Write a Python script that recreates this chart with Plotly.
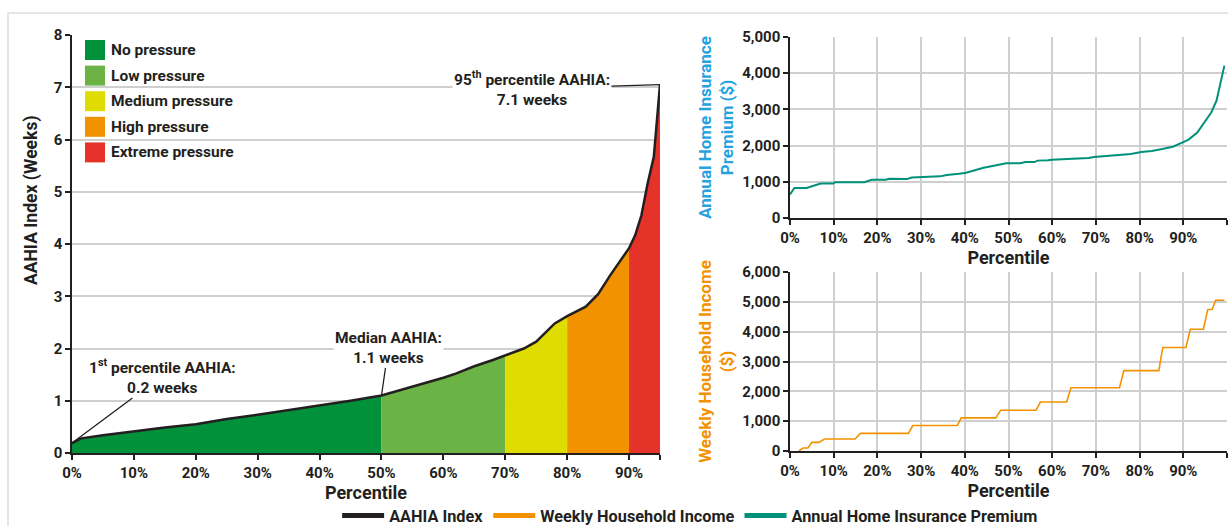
import plotly.graph_objects as go

W, H = 1228, 526

# ---------------- data ----------------
# Left panel: AAHIA index (weeks) by percentile
aahia_pct = [0, 1.5, 5, 10, 15, 20, 25, 30, 35, 40, 45, 50, 53, 56, 60, 62, 65, 68, 70,
             73, 75, 78, 80, 83, 85, 87, 90, 91, 92, 93, 94, 95]
aahia_val = [0.19, 0.28, 0.34, 0.42, 0.49, 0.55, 0.65, 0.73, 0.82, 0.90, 1.00, 1.10, 1.20,
             1.30, 1.44, 1.52, 1.66, 1.78, 1.87, 2.00, 2.13, 2.48, 2.62, 2.80, 3.04, 3.41,
             3.92, 4.17, 4.55, 5.16, 5.67, 7.05]

pressure_names = ["No pressure", "Low pressure", "Medium pressure", "High pressure", "Extreme pressure"]
pressure_colors = ["#00913a", "#6ab344", "#dedc00", "#f39200", "#e5332a"]
pressure_bounds = [0, 50, 70, 80, 90, 95]

# Top right: annual home insurance premium ($)
premium_pct = [0, 1, 3.8, 7, 9.9, 10.3, 17, 18.7, 21.9, 22.7, 26.7, 27.9, 34.3, 35.9, 38.7,
               40.3, 44.3, 49.5, 52.7, 53.9, 55.9, 56.7, 59.1, 59.9, 63.5, 65.9, 68.3, 69.6,
               73.2, 75.6, 78, 80.4, 82.8, 85.2, 87.6, 90, 91.2, 93.2, 95.2, 96.4, 97.6,
               98.6, 99.4]
premium_val = [650, 830, 830, 950, 950, 990, 990, 1055, 1055, 1085, 1075, 1120, 1150, 1185,
               1220, 1250, 1390, 1510, 1510, 1545, 1545, 1585, 1595, 1610, 1630, 1640, 1655,
               1685, 1715, 1750, 1770, 1825, 1850, 1905, 1970, 2095, 2165, 2360, 2685, 2915,
               3240, 3750, 4210]

# Bottom right: weekly household income ($)
income_pct = [2, 3, 4.1, 5, 6.6, 7.9, 14.9, 16.1, 27.1, 28.1, 38.3, 39.2, 47.1, 48.2, 56.3,
              57.3, 63.3, 64.3, 75.4, 76.4, 84.4, 85.3, 90.6, 91.6, 94.6, 95.6, 96.6, 97.4, 99.4]
income_val = [0, 100, 100, 290, 290, 400, 400, 590, 590, 855, 855, 1110, 1110, 1365, 1365,
              1640, 1640, 2120, 2120, 2695, 2695, 3470, 3470, 4080, 4080, 4745, 4745, 5055, 5055]

pct_ticks = [0, 10, 20, 30, 40, 50, 60, 70, 80, 90]
pct_labels = [f"{t}%" for t in pct_ticks]

# ---------------- styling ----------------
DARK = "#231f20"
GRID = "#cfcfcf"
BLUE = "#27a2dc"
ORANGE = "#f39200"
TEAL = "#00917a"
FONT = "Roboto"


def px(x):
    return x / W


def py(y):
    return 1 - y / H


fig = go.Figure()

# pressure bands under the AAHIA curve
for name, color, lo, hi in zip(pressure_names, pressure_colors, pressure_bounds[:-1], pressure_bounds[1:]):
    xs = [p for p in aahia_pct if lo <= p <= hi]
    ys = [v for p, v in zip(aahia_pct, aahia_val) if lo <= p <= hi]
    fig.add_trace(go.Scatter(x=xs, y=ys, mode="lines", fill="tozeroy", fillcolor=color,
                             line=dict(width=0, color=color), showlegend=False,
                             hoverinfo="skip", xaxis="x", yaxis="y"))

fig.add_trace(go.Scatter(x=aahia_pct, y=aahia_val, mode="lines", name="AAHIA Index",
                         line=dict(color=DARK, width=2.5), showlegend=False,
                         xaxis="x", yaxis="y"))

fig.add_trace(go.Scatter(x=premium_pct, y=premium_val, mode="lines",
                         name="Annual Home Insurance Premium",
                         line=dict(color=TEAL, width=2), showlegend=False,
                         xaxis="x2", yaxis="y2"))

fig.add_trace(go.Scatter(x=income_pct, y=income_val, mode="lines",
                         name="Weekly Household Income",
                         line=dict(color=ORANGE, width=1.6), showlegend=False,
                         xaxis="x3", yaxis="y3"))

# legend-only entries (thicker icons)
for name, color in [("AAHIA Index", DARK), ("Weekly Household Income", ORANGE),
                    ("Annual Home Insurance Premium", TEAL)]:
    fig.add_trace(go.Scatter(x=[None], y=[None], mode="lines", name=name,
                             line=dict(color=color, width=5), xaxis="x", yaxis="y"))

tickfont = dict(family=FONT, size=15, color=DARK, weight="bold")
titlefont = dict(family=FONT, size=18, color=DARK, weight="bold")

common_x = dict(showline=True, linecolor=DARK, linewidth=1.5, ticks="outside",
                ticklen=5, tickcolor=DARK, tickwidth=1.5, tickfont=tickfont,
                zeroline=False)
common_y = dict(showline=True, linecolor=DARK, linewidth=1.5, ticks="outside",
                ticklen=5, tickcolor=DARK, tickwidth=1.5, tickfont=tickfont,
                zeroline=False, gridcolor=GRID, gridwidth=1.5)

fig.update_layout(
    width=W, height=H,
    margin=dict(l=0, r=0, t=0, b=0, autoexpand=False),
    paper_bgcolor="white", plot_bgcolor="white",
    font=dict(family=FONT, color=DARK),
    showlegend=True,
    legend=dict(orientation="h", x=0.562, xanchor="center", y=py(516), yanchor="middle",
                font=dict(family=FONT, size=16.3, color=DARK, weight="bold"),
                itemwidth=42, tracegroupgap=0, bgcolor="rgba(0,0,0,0)"),
    xaxis=dict(domain=[px(72), px(660)], range=[0, 95],
               tickvals=pct_ticks, ticktext=pct_labels,
               minor=dict(tickvals=[95], ticks="outside", ticklen=5, tickcolor=DARK,
                          tickwidth=1.5, showgrid=False),
               showgrid=False,
               title=dict(text="Percentile", font=titlefont, standoff=0),
               **common_x),
    yaxis=dict(domain=[py(453), py(35)], range=[0, 8], dtick=1, showgrid=True,
               **common_y),
    xaxis2=dict(domain=[px(790), px(1227)], range=[0, 100],
                tickvals=pct_ticks, ticktext=pct_labels,
                minor=dict(tickvals=[100], ticks="outside", ticklen=5, tickcolor=DARK,
                           tickwidth=1.5, showgrid=True, gridcolor=GRID, gridwidth=1.5),
                showgrid=True, gridcolor=GRID, gridwidth=1.5, anchor="y2",
                title=dict(text="Percentile", font=titlefont, standoff=0),
                **common_x),
    yaxis2=dict(domain=[py(218), py(37)], range=[0, 5000], dtick=1000,
                tickformat=",", anchor="x2", showgrid=True,
                title=dict(text="Annual Home Insurance<br>Premium ($)",
                           font=dict(family=FONT, size=17, color=BLUE, weight="bold"),
                           standoff=4),
                **common_y),
    xaxis3=dict(domain=[px(790), px(1227)], range=[0, 100],
                tickvals=pct_ticks, ticktext=pct_labels,
                minor=dict(tickvals=[100], ticks="outside", ticklen=5, tickcolor=DARK,
                           tickwidth=1.5, showgrid=True, gridcolor=GRID, gridwidth=1.5),
                showgrid=True, gridcolor=GRID, gridwidth=1.5, anchor="y3",
                title=dict(text="Percentile", font=titlefont, standoff=1),
                **common_x),
    yaxis3=dict(domain=[py(451), py(272)], range=[0, 6000], dtick=1000,
                tickformat=",", anchor="x3", showgrid=True,
                title=dict(text="Weekly Household Income<br>($)",
                           font=dict(family=FONT, size=17, color=ORANGE, weight="bold"),
                           standoff=4),
                **common_y),
)

shapes = []
annotations = []

# outer frame
shapes.append(dict(type="rect", xref="paper", yref="paper", x0=px(8), x1=px(1260),
                   y0=py(560), y1=py(13), line=dict(color="#dddddd", width=1.5),
                   fillcolor="rgba(0,0,0,0)", layer="below"))

# inner pressure legend
for i, (name, color) in enumerate(zip(pressure_names, pressure_colors)):
    top = 40 + i * 25.6
    shapes.append(dict(type="rect", xref="paper", yref="paper", x0=px(85), x1=px(105),
                       y0=py(top + 20), y1=py(top), line=dict(width=0), fillcolor=color))
    annotations.append(dict(xref="paper", yref="paper", x=px(109), y=py(top + 10),
                            xanchor="left", yanchor="middle", showarrow=False, text=name,
                            font=dict(family=FONT, size=15.5, color=DARK, weight="bold")))

afont = dict(family=FONT, size=15.5, color=DARK, weight="bold")
annotations += [
    dict(x=aahia_pct[0], y=aahia_val[0], xref="x", yref="y",
         text="1<sup>st</sup> percentile AAHIA:<br>0.2 weeks", showarrow=True,
         arrowhead=0, arrowwidth=1.3, arrowcolor=DARK, ax=90, ay=-67,
         font=afont, bgcolor="white", align="center"),
    dict(x=50, y=aahia_val[aahia_pct.index(50)], xref="x", yref="y",
         text="Median AAHIA:<br>1.1 weeks", showarrow=True,
         arrowhead=0, arrowwidth=1.3, arrowcolor=DARK, ax=7, ay=-48,
         font=afont, bgcolor="white", align="center"),
    dict(x=aahia_pct[-1], y=aahia_val[-1], xref="x", yref="y",
         text="95<sup>th</sup> percentile AAHIA:<br>7.1 weeks", showarrow=True,
         arrowhead=0, arrowwidth=1.3, arrowcolor=DARK, ax=-128, ay=4,
         font=afont, bgcolor="white", align="center"),
    dict(xref="paper", yref="paper", x=px(32), y=py(200), text="AAHIA Index (Weeks)",
         textangle=-90, showarrow=False, xanchor="center", yanchor="middle",
         font=dict(family=FONT, size=17.5, color=DARK, weight="bold")),
]

fig.update_layout(shapes=shapes, annotations=annotations)

fig.write_html("out.html", config={"displayModeBar": False},
               post_script="document.body.style.margin='0';document.body.style.overflow='hidden';")
